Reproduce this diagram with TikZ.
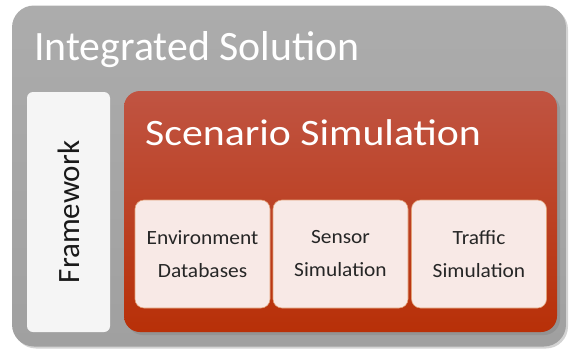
\documentclass[tikz,border=0pt]{standalone}
\usepackage{fontspec}
\setmainfont{Carlito}
\newfontfamily\widefont[FakeStretch=1.12]{Carlito}
\newfontfamily\boxfont[FakeStretch=1.06]{Carlito}
\usetikzlibrary{shadows}
\definecolor{outergray}{RGB}{172,172,172}
\definecolor{outergraydk}{RGB}{160,160,160}
\definecolor{frameworkfill}{RGB}{245,245,245}
\definecolor{scentop}{RGB}{192,84,66}
\definecolor{scenbot}{RGB}{184,48,8}
\definecolor{subfill}{RGB}{248,233,230}
\definecolor{subline}{RGB}{226,160,120}
\tikzset{
  panel/.style={rounded corners=#1, inner sep=0pt, outer sep=0pt},
  subbox/.style={panel=9pt, fill=subfill, draw=subline, line width=0.6pt,
    minimum width=135pt, minimum height=108pt, align=center,
    font=\boxfont\fontsize{20.2}{33}\selectfont, text=black!85},
}
\begin{document}
\begin{tikzpicture}[x=1pt, y=-1pt]
  \useasboundingbox (0,0) rectangle (569,356);
  % outer container
  \node[panel=22pt, top color=outergray, bottom color=outergraydk,
    minimum width=554pt, minimum height=341pt,
    drop shadow={shadow xshift=2pt, shadow yshift=-2pt, opacity=0.35}]
    (solution) at (289,176) {};
  \node[anchor=base west, text=white, font=\fontsize{41.8}{41.8}\selectfont,
    inner sep=0pt] (solutiontitle) at (34,60) {Integrated Solution};
  % framework column
  \node[panel=6pt, fill=frameworkfill, minimum width=83pt, minimum height=240pt]
    (framework) at (68.5,212) {};
  \node[rotate=90, font=\fontsize{31}{31}\selectfont, text=black!90]
    (frameworklabel) at (framework.center) {Framework};
  % scenario simulation
  \node[panel=16pt, top color=scentop, bottom color=scenbot,
    minimum width=433pt, minimum height=241pt,
    drop shadow={shadow xshift=3pt, shadow yshift=-3pt, opacity=0.4}]
    (scenario) at (340.5,211.5) {};
  \node[anchor=base west, text=white, font=\widefont\fontsize{37.3}{37.3}\selectfont,
    inner sep=0pt] (scenariotitle) at (145,145) {Scenario Simulation};
  % sub components
  \node[subbox] (envdb) at (202.5,254) {Environment\\Databases};
  \node[subbox] (sensorsim) at (340.5,254) {Sensor\\Simulation};
  \node[subbox] (trafficsim) at (479,254) {Traffic\\Simulation};
\end{tikzpicture}
\end{document}
